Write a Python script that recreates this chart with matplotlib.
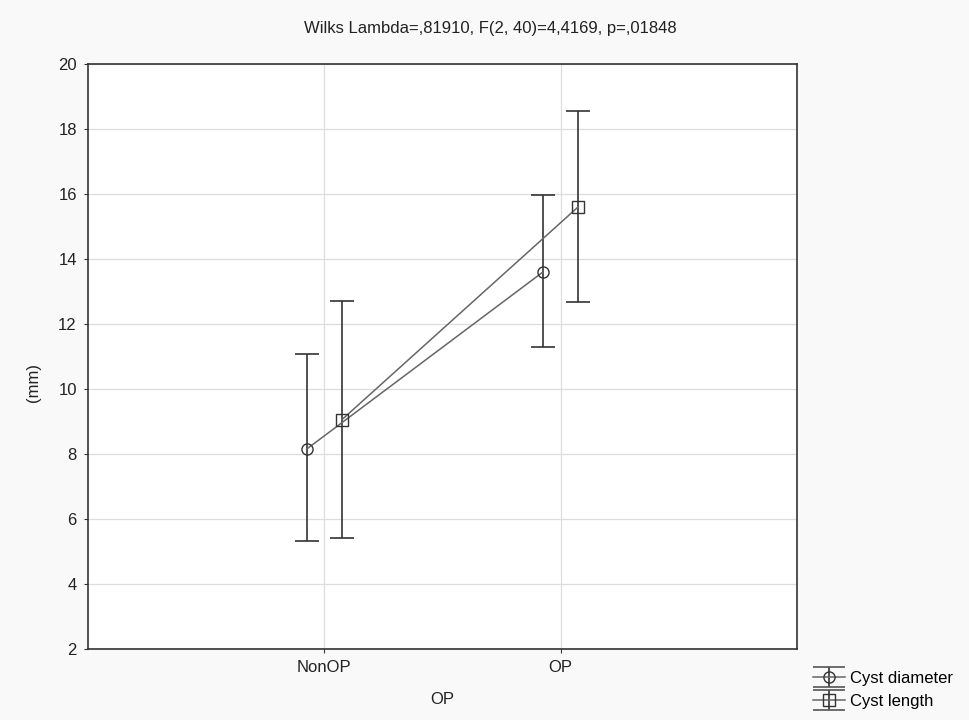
import matplotlib.pyplot as plt
import numpy as np
from matplotlib.container import ErrorbarContainer
from matplotlib.legend_handler import HandlerErrorbar
from matplotlib.lines import Line2D

plt.rcParams['font.family'] = ['Liberation Sans', 'DejaVu Sans']

groups = ['NonOP', 'OP']
diam_mean = [8.15, 13.60]
diam_lo = [5.31, 11.28]
diam_hi = [11.07, 15.96]
len_mean = [9.06, 15.61]
len_lo = [5.41, 12.68]
len_hi = [12.72, 18.56]


class WideCaps(HandlerErrorbar):
    # legend caps as wide as the handle, like the original
    def create_artists(self, *args, **kw):
        arts = super().create_artists(*args, **kw)
        for a in arts:
            if isinstance(a, Line2D) and a.get_marker() == '_':
                a.set_markersize(23)
                a.set_markeredgecolor('#555555')
        return arts


fig = plt.figure(figsize=(9.69, 7.2), dpi=100, facecolor='#f9f9f9')
ax = fig.add_axes([0.0908, 0.0986, 0.7317, 0.8125])
ax.set_facecolor('white')

x = np.arange(len(groups))
off = 0.075
d_err = [np.subtract(diam_mean, diam_lo), np.subtract(diam_hi, diam_mean)]
l_err = [np.subtract(len_mean, len_lo), np.subtract(len_hi, len_mean)]

common = dict(color='#666666', ecolor='#333333', elinewidth=1.2, capsize=8.5, capthick=1.2,
              lw=1.1, ms=8, mfc='none', mec='#333333', zorder=3)
ax.errorbar(x - off, diam_mean, yerr=d_err, fmt='o-', label='Cyst diameter', **common)
ax.errorbar(x + off, len_mean, yerr=l_err, fmt='s-', label='Cyst length', **common)

ax.set_xlim(-1, 2)
ax.set_ylim(2, 20)
ax.set_xticks(x)
ax.set_xticklabels(groups)
ax.set_yticks(np.arange(2, 21, 2))
ax.grid(True, color='#dddddd', lw=0.9)
ax.set_axisbelow(True)
for s in ax.spines.values():
    s.set_color('#333333')
    s.set_linewidth(1.2)
ax.tick_params(labelsize=12, length=3, color='#333333', labelcolor='#222222', pad=5)

ax.set_xlabel('OP', fontsize=12, color='#222222', labelpad=12)
ax.set_ylabel('(mm)', fontsize=12, color='#222222')
ax.yaxis.set_label_coords(-0.066, 0.455)
fig.text(0.506, 0.961, 'Wilks Lambda=,81910, F(2, 40)=4,4169, p=,01848', fontsize=12,
         ha='center', va='center', color='#222222')

fig.legend(loc='upper left', bbox_to_anchor=(0.839, 0.068), frameon=False, fontsize=12,
           handlelength=1.92, handletextpad=0.3, labelspacing=0.45, borderpad=0,
           borderaxespad=0, handler_map={ErrorbarContainer: WideCaps(yerr_size=0.6)})

fig.savefig('out.png', dpi=100, facecolor=fig.get_facecolor())
